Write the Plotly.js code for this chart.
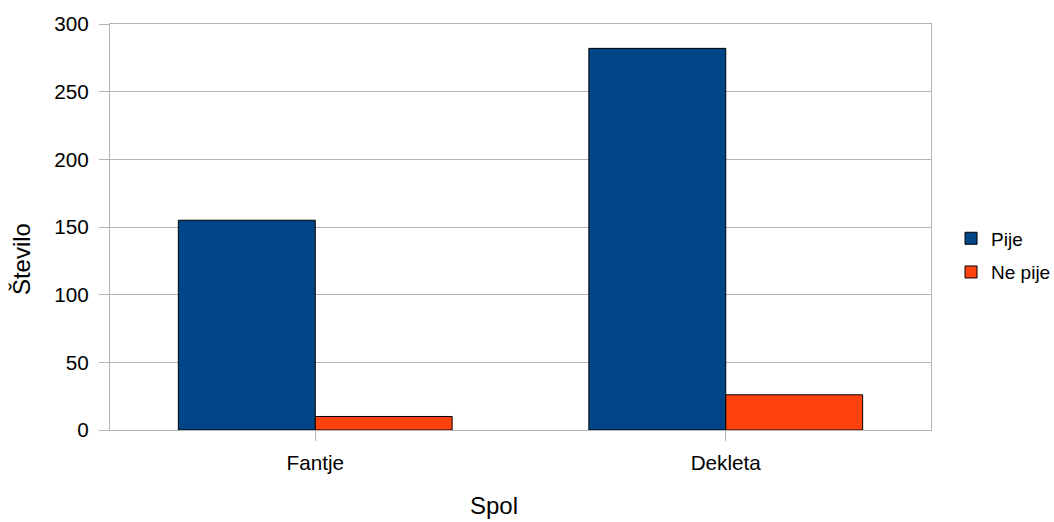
<!DOCTYPE html>
<html><head><meta charset="utf-8">
<script src="https://cdn.plot.ly/plotly-3.0.1.min.js"></script>
<style>body{margin:0;padding:0;background:#fff}#chart{width:1054px;height:522px}</style>
</head><body><div id="chart"></div>
<script>
const categories = ["Fantje", "Dekleta"];
const pije = [155, 282];
const nePije = [10, 26];
const seriesNames = ["Pije", "Ne pije"];
const yTicks = [0, 50, 100, 150, 200, 250, 300];

const fam = "Liberation Sans, Arial, sans-serif";
const tickFont = {family: fam, size: 20.7, color: "#000"};
const legendFont = {family: fam, size: 19, color: "#000"};
const titleFont = {family: fam, size: 24, color: "#000"};
const data = [
  {type: "bar", name: seriesNames[0], x: categories, y: pije, legendgroup: "a",
   marker: {color: "#004586", line: {color: "#000", width: 1}}},
  {type: "bar", name: seriesNames[1], x: categories, y: nePije, legendgroup: "b",
   marker: {color: "#ff420e", line: {color: "#000", width: 1}}}
];
const layout = {
  width: 1054, height: 522,
  margin: {l: 110, r: 123, t: 24, b: 92, autoexpand: false},
  paper_bgcolor: "#fff", plot_bgcolor: "#fff",
  font: tickFont,
  barmode: "group", bargap: 0.333, bargroupgap: 0,
  xaxis: {
    showgrid: false, showline: true, linecolor: "#b3b3b3", linewidth: 1,
    mirror: true, ticks: "outside", ticklen: 10, tickcolor: "#b3b3b3",
    tickfont: tickFont, ticklabelstandoff: 4, automargin: false
  },
  yaxis: {
    range: [0, 300], tickvals: yTicks, showgrid: true, gridcolor: "#b3b3b3",
    showline: true, linecolor: "#b3b3b3", linewidth: 1, mirror: true,
    ticks: "outside", ticklen: 10, tickcolor: "#b3b3b3", zeroline: false,
    tickfont: tickFont, ticklabelstandoff: 6, automargin: false
  },
  annotations: [
    {text: "Spol", xref: "paper", yref: "paper", x: 0.4677, y: -0.187, xanchor: "center", yanchor: "middle",
     showarrow: false, font: titleFont},
    {text: "Število", xref: "paper", yref: "paper", x: -0.1084, y: 0.421, xanchor: "center", yanchor: "middle",
     showarrow: false, font: titleFont, textangle: -90}
  ],
  legend: {x: 1.0244, y: 0.43, xanchor: "left", yanchor: "middle",
    font: legendFont, tracegroupgap: 6, itemwidth: 30},
  showlegend: true
};
Plotly.newPlot("chart", data, layout, {displayModeBar: false, staticPlot: true});
</script></body></html>
